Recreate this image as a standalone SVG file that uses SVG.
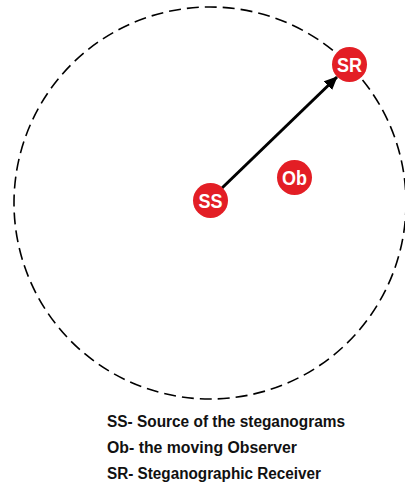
<svg xmlns="http://www.w3.org/2000/svg" width="405" height="485" viewBox="0 0 405 485">
<style>
.node circle{fill:#e31e25}
.node text{fill:#fff;font-family:"Liberation Sans",Arial,sans-serif;font-weight:bold;font-size:20px;text-anchor:middle}
.legend{font-family:"Liberation Sans",Arial,sans-serif;font-weight:bold;font-size:16px;fill:#111}
</style>
<defs>
<marker id="ah" markerWidth="4.5" markerHeight="4" refX="4.2" refY="2" orient="auto" markerUnits="strokeWidth">
<path d="M0,0 L4.5,2 L0,4 Z" fill="#000"/>
</marker>
</defs>
<rect width="405" height="485" fill="#fff"/>
<circle id="range" cx="210" cy="203" r="196" fill="none" stroke="#000" stroke-width="1.6" stroke-dasharray="12 6"/>
<g id="connectors">
<line x1="222" y1="188" x2="337" y2="77" stroke="#000" stroke-width="3" marker-end="url(#ah)"/>
</g>
<g id="SS" class="node"><circle cx="210.5" cy="200.5" r="17.5"/><text x="210.5" y="208" textLength="24" lengthAdjust="spacingAndGlyphs">SS</text></g>
<g id="SR" class="node"><circle cx="349.5" cy="64.5" r="17.5"/><text x="349.5" y="72" textLength="25" lengthAdjust="spacingAndGlyphs">SR</text></g>
<g id="Ob" class="node"><circle cx="294.5" cy="177.5" r="17.5"/><text x="294.5" y="185" font-size="19" textLength="25" lengthAdjust="spacingAndGlyphs">Ob</text></g>
<g id="legend">
<text class="legend" x="107" y="427" textLength="238" lengthAdjust="spacingAndGlyphs">SS- Source of the steganograms</text>
<text class="legend" x="107" y="453" textLength="190" lengthAdjust="spacingAndGlyphs">Ob- the moving Observer</text>
<text class="legend" x="107" y="479" textLength="214" lengthAdjust="spacingAndGlyphs">SR- Steganographic Receiver</text>
</g>
</svg>
